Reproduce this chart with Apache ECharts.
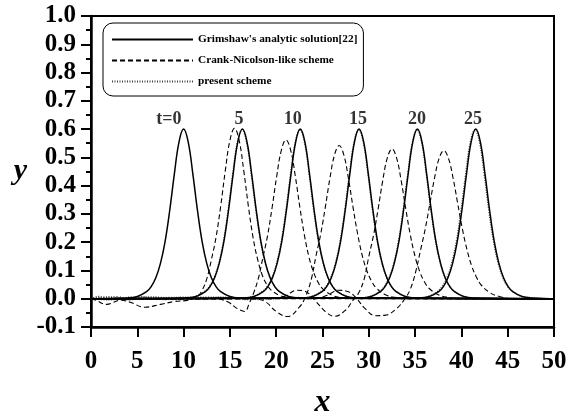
<!DOCTYPE html>
<html><head><meta charset="utf-8">
<script src="https://cdn.jsdelivr.net/npm/echarts@6/dist/echarts.min.js"></script>
<style>html,body{margin:0;padding:0;background:#fff}#c{width:568px;height:412px}</style>
</head><body><div id="c"></div>
<script>
// ---- data ----
const seriesNames = ["Grimshaw's analytic solution[22]", "Crank-Nicolson-like scheme", "present scheme"];
const peakLabels = ["t=0", "5", "10", "15", "20", "25"];
const peakLabelX = [8.42, 15.98, 21.8, 28.83, 35.2, 41.25];
const peakLabelY = [0.635, 0.635, 0.635, 0.635, 0.635, 0.635];
const yTicks = [-0.1, 0.0, 0.1, 0.2, 0.3, 0.4, 0.5, 0.6, 0.7, 0.8, 0.9, 1.0];
const xTicks = [0, 5, 10, 15, 20, 25, 30, 35, 40, 45, 50];

const exactT0 = [[0,0],[4,0.003],[5,0.008],[6,0.025],[6.5,0.043],[7,0.074],[7.5,0.125],[8,0.202],[8.5,0.312],[9,0.441],[9.5,0.554],[10,0.6],[10.5,0.554],[11,0.441],[11.5,0.312],[12,0.202],[12.5,0.125],[13,0.074],[13.5,0.043],[14,0.025],[15,0.008],[16,0.003],[50,0]];
const exactT5 = [[0,0],[10.35,0.003],[11.35,0.008],[12.35,0.025],[12.85,0.043],[13.35,0.074],[13.85,0.125],[14.35,0.202],[14.85,0.312],[15.35,0.441],[15.85,0.554],[16.35,0.6],[16.85,0.554],[17.35,0.441],[17.85,0.312],[18.35,0.202],[18.85,0.125],[19.35,0.074],[19.85,0.043],[20.35,0.025],[21.35,0.008],[22.35,0.003],[50,0]];
const exactT10 = [[0,0],[16.6,0.003],[17.6,0.008],[18.6,0.025],[19.1,0.043],[19.6,0.074],[20.1,0.125],[20.6,0.202],[21.1,0.312],[21.6,0.441],[22.1,0.554],[22.6,0.6],[23.1,0.554],[23.6,0.441],[24.1,0.312],[24.6,0.202],[25.1,0.125],[25.6,0.074],[26.1,0.043],[26.6,0.025],[27.6,0.008],[28.6,0.003],[50,0]];
const exactT15 = [[0,0],[22.95,0.003],[23.95,0.008],[24.95,0.025],[25.45,0.043],[25.95,0.074],[26.45,0.125],[26.95,0.202],[27.45,0.312],[27.95,0.441],[28.45,0.554],[28.95,0.6],[29.45,0.554],[29.95,0.441],[30.45,0.312],[30.95,0.202],[31.45,0.125],[31.95,0.074],[32.45,0.043],[32.95,0.025],[33.95,0.008],[34.95,0.003],[50,0]];
const exactT20 = [[0,0],[29.25,0.003],[30.25,0.008],[31.25,0.025],[31.75,0.043],[32.25,0.074],[32.75,0.125],[33.25,0.202],[33.75,0.312],[34.25,0.441],[34.75,0.554],[35.25,0.6],[35.75,0.554],[36.25,0.441],[36.75,0.312],[37.25,0.202],[37.75,0.125],[38.25,0.074],[38.75,0.043],[39.25,0.025],[40.25,0.008],[41.25,0.003],[50,0]];
const exactT25 = [[0,0],[35.55,0.003],[36.55,0.008],[37.55,0.025],[38.05,0.043],[38.55,0.074],[39.05,0.125],[39.55,0.202],[40.05,0.312],[40.55,0.441],[41.05,0.554],[41.55,0.6],[42.05,0.554],[42.55,0.441],[43.05,0.312],[43.55,0.202],[44.05,0.125],[44.55,0.074],[45.05,0.043],[45.55,0.025],[46.55,0.008],[47.55,0.003],[50,0]];

const cnT5 = [[0,0],[0.5,-0.005],[1.7,-0.02],[3.2,-0.005],[4.2,-0.012],[5.8,-0.03],[7.5,-0.02],[9,-0.01],[10.5,-0.005],[11.5,0.008],[12,0.03],[12.5,0.07],[13,0.138],[13.5,0.217],[14,0.326],[14.5,0.452],[15,0.56],[15.5,0.603],[16,0.56],[16.5,0.452],[17,0.326],[17.5,0.217],[18,0.138],[18.5,0.083],[19,0.049],[19.5,0.029],[20.5,0.01],[21.5,0.003],[23,0],[50,0]];
const cnT10 = [[0,0],[13.5,0],[14.8,-0.012],[15.8,-0.035],[16.6,-0.045],[17.1,-0.015],[17.56,0.02],[18.06,0.07],[18.56,0.145],[19.06,0.222],[19.56,0.323],[20.06,0.434],[20.56,0.526],[21.06,0.562],[21.56,0.526],[22.06,0.434],[22.56,0.323],[23.06,0.222],[23.56,0.145],[24.06,0.092],[24.56,0.056],[25.06,0.034],[26.06,0.012],[27.06,0.004],[28.5,0],[50,0]];
const cnT15 = [[0,0],[17.5,0],[18.8,-0.01],[20,-0.045],[21.2,-0.063],[22.5,-0.03],[23.2,0.01],[23.8,0.07],[24.3,0.152],[24.8,0.228],[25.3,0.323],[25.8,0.426],[26.3,0.509],[26.8,0.542],[27.3,0.509],[27.8,0.426],[28.3,0.323],[28.8,0.228],[29.3,0.152],[29.8,0.098],[30.3,0.062],[30.8,0.038],[31.8,0.014],[32.8,0.005],[34.5,0],[50,0]];
const cnT20 = [[0,0],[19.5,0],[21,0.01],[22.2,0.03],[23.2,0.025],[24.3,-0.01],[25.3,-0.045],[26.3,-0.062],[27.5,-0.04],[28.3,-0.005],[28.9,0.02],[29.5,0.07],[30,0.149],[30.5,0.223],[31,0.316],[31.5,0.417],[32,0.498],[32.5,0.53],[33,0.498],[33.5,0.417],[34,0.316],[34.5,0.223],[35,0.149],[35.5,0.096],[36,0.06],[36.5,0.037],[37.5,0.014],[38.5,0.005],[40,0],[50,0]];
const cnT25 = [[0,0],[24,0],[25.5,0.012],[26.7,0.03],[27.8,0.025],[28.7,0],[29.6,-0.035],[30.7,-0.06],[31.8,-0.058],[33,-0.035],[33.9,0],[34.5,0.035],[35.1,0.1],[35.6,0.174],[36.1,0.248],[36.6,0.337],[37.1,0.427],[37.6,0.497],[38.1,0.524],[38.6,0.497],[39.1,0.427],[39.6,0.337],[40.1,0.248],[40.6,0.174],[41.1,0.117],[41.6,0.078],[42.1,0.05],[43.1,0.021],[44.1,0.008],[45.5,0],[50,0]];

const presT5 = [[0,0],[0.8,0.008],[1.8,-0.003],[3,0.006],[4.2,-0.004],[5.5,0.007],[7,-0.002],[8.5,0.005],[10.3,0.004],[11.3,0.009],[12.3,0.027],[12.8,0.045],[13.3,0.076],[13.8,0.127],[14.3,0.204],[14.8,0.313],[15.3,0.441],[15.8,0.553],[16.3,0.598],[16.8,0.553],[17.3,0.441],[17.8,0.313],[18.3,0.204],[18.8,0.127],[19.3,0.076],[19.8,0.045],[20.3,0.027],[21.3,0.009],[22.3,0.004],[50,0]];
const presT10 = [[0,0],[2.5,0.007],[4,-0.003],[6.5,0.006],[9,-0.003],[11,0.006],[13.5,0],[16.55,0.004],[17.55,0.009],[18.55,0.027],[19.05,0.045],[19.55,0.076],[20.05,0.127],[20.55,0.204],[21.05,0.313],[21.55,0.441],[22.05,0.553],[22.55,0.598],[23.05,0.553],[23.55,0.441],[24.05,0.313],[24.55,0.204],[25.05,0.127],[25.55,0.076],[26.05,0.045],[26.55,0.027],[27.55,0.009],[28.55,0.004],[50,0]];
const presT15 = [[0,0],[1.5,0.006],[3.5,-0.004],[5,0.005],[8,-0.003],[10,0.006],[12,-0.002],[14,0.005],[17,-0.003],[20,0.004],[22.9,0.004],[23.9,0.009],[24.9,0.027],[25.4,0.045],[25.9,0.076],[26.4,0.127],[26.9,0.204],[27.4,0.313],[27.9,0.441],[28.4,0.553],[28.9,0.598],[29.4,0.553],[29.9,0.441],[30.4,0.313],[30.9,0.204],[31.4,0.127],[31.9,0.076],[32.4,0.045],[32.9,0.027],[33.9,0.009],[34.9,0.004],[50,0]];
const presT20 = [[0,0],[2,-0.004],[4.5,0.006],[7.5,0.005],[9.5,-0.003],[12.5,0.006],[15,0.004],[18.5,-0.003],[21.5,0.005],[24,0.003],[29.2,0.004],[30.2,0.009],[31.2,0.027],[31.7,0.045],[32.2,0.076],[32.7,0.127],[33.2,0.204],[33.7,0.313],[34.2,0.441],[34.7,0.553],[35.2,0.598],[35.7,0.553],[36.2,0.441],[36.7,0.313],[37.2,0.204],[37.7,0.127],[38.2,0.076],[38.7,0.045],[39.2,0.027],[40.2,0.009],[41.2,0.004],[50,0]];
const presT25 = [[0,0],[35.45,0.004],[36.45,0.009],[37.45,0.027],[37.95,0.045],[38.45,0.076],[38.95,0.127],[39.45,0.204],[39.95,0.313],[40.45,0.441],[40.95,0.553],[41.45,0.598],[41.95,0.553],[42.45,0.441],[42.95,0.313],[43.45,0.204],[43.95,0.127],[44.45,0.076],[44.95,0.045],[45.45,0.027],[46.45,0.009],[47.45,0.004],[50,0]];

const exactSets = [exactT0, exactT5, exactT10, exactT15, exactT20, exactT25];
const cnSets = [cnT5, cnT10, cnT15, cnT20, cnT25];
const presSets = [presT5, presT10, presT15, presT20, presT25];

// ---- chart ----
const FONT = "'Liberation Serif', 'Times New Roman', serif";
const chart = echarts.init(document.getElementById('c'), null, {renderer: 'canvas'});
const series = [];
cnSets.forEach(d => series.push({
  name: seriesNames[1], type: 'line', data: d, smooth: 0.4, symbol: 'none',
  itemStyle: {color: '#000'},
  lineStyle: {color: '#000', width: 1.1, type: [5, 3]}, z: 2
}));
presSets.forEach(d => series.push({
  name: seriesNames[2], type: 'line', data: d, smooth: 0.4, symbol: 'none',
  itemStyle: {color: '#444'},
  lineStyle: {color: '#444', width: 1.3, type: [1, 1.5]}, z: 3
}));
exactSets.forEach(d => series.push({
  name: seriesNames[0], type: 'line', data: d, smooth: 0.4, symbol: 'none',
  itemStyle: {color: '#000'},
  lineStyle: {color: '#000', width: 1.5}, z: 4
}));
series.push({
  type: 'scatter', symbolSize: 0, silent: true, z: 5,
  data: peakLabelX.map((x, i) => [x, peakLabelY[i]]),
  label: {show: true, position: 'inside', formatter: p => peakLabels[p.dataIndex],
    fontFamily: FONT, fontWeight: 'bold', fontSize: 18, color: '#000'}
});

chart.setOption({
  animation: false,
  backgroundColor: '#fff',
  grid: {left: 91, right: 14, top: 16, bottom: 85, containLabel: false, outerBoundsMode: 'none',
    show: true, borderColor: '#000', borderWidth: 2, backgroundColor: 'transparent'},
  legend: {
    data: [seriesNames[0], seriesNames[1], seriesNames[2]],
    orient: 'vertical', left: 103, top: 23,
    itemWidth: 81, itemHeight: 12, itemGap: 10,
    padding: [11, 6, 9, 8],
    itemStyle: {opacity: 0},
    borderColor: '#000', borderWidth: 1, borderRadius: 10,
    textStyle: {fontFamily: FONT, fontWeight: 'bold', fontSize: 11.3, color: '#000'},
    selectedMode: false
  },
  xAxis: {
    type: 'value', min: xTicks[0], max: xTicks[xTicks.length - 1], interval: 5,
    axisLine: {onZero: false, lineStyle: {color: '#000', width: 2.5}},
    axisTick: {show: true, length: 10, lineStyle: {color: '#000', width: 2}},
    axisLabel: {fontFamily: FONT, fontWeight: 'bold', fontSize: 25, color: '#000', margin: 22},
    splitLine: {show: false},
    name: 'x', nameLocation: 'middle', nameGap: 60,
    nameTextStyle: {fontFamily: FONT, fontStyle: 'italic', fontWeight: 'bold', fontSize: 32, color: '#000'}
  },
  yAxis: {
    type: 'value', min: yTicks[0], max: yTicks[yTicks.length - 1], interval: 0.1,
    axisLine: {onZero: false, lineStyle: {color: '#000', width: 2.5}},
    axisTick: {show: true, length: 10, lineStyle: {color: '#000', width: 2}},
    minorTick: {show: true, splitNumber: 2, length: 5, lineStyle: {color: '#000', width: 2}},
    axisLabel: {fontFamily: FONT, fontWeight: 'bold', fontSize: 25, color: '#000', margin: 15,
      formatter: v => (Math.abs(v) < 1e-9 ? 0 : v).toFixed(1)},
    splitLine: {show: false},
    name: 'y', nameLocation: 'middle', nameGap: 64, nameRotate: 0,
    nameTextStyle: {fontFamily: FONT, fontStyle: 'italic', fontWeight: 'bold', fontSize: 30, color: '#000', padding: [8, 0, 0, 0]}
  },
  series: series
});
</script></body></html>
